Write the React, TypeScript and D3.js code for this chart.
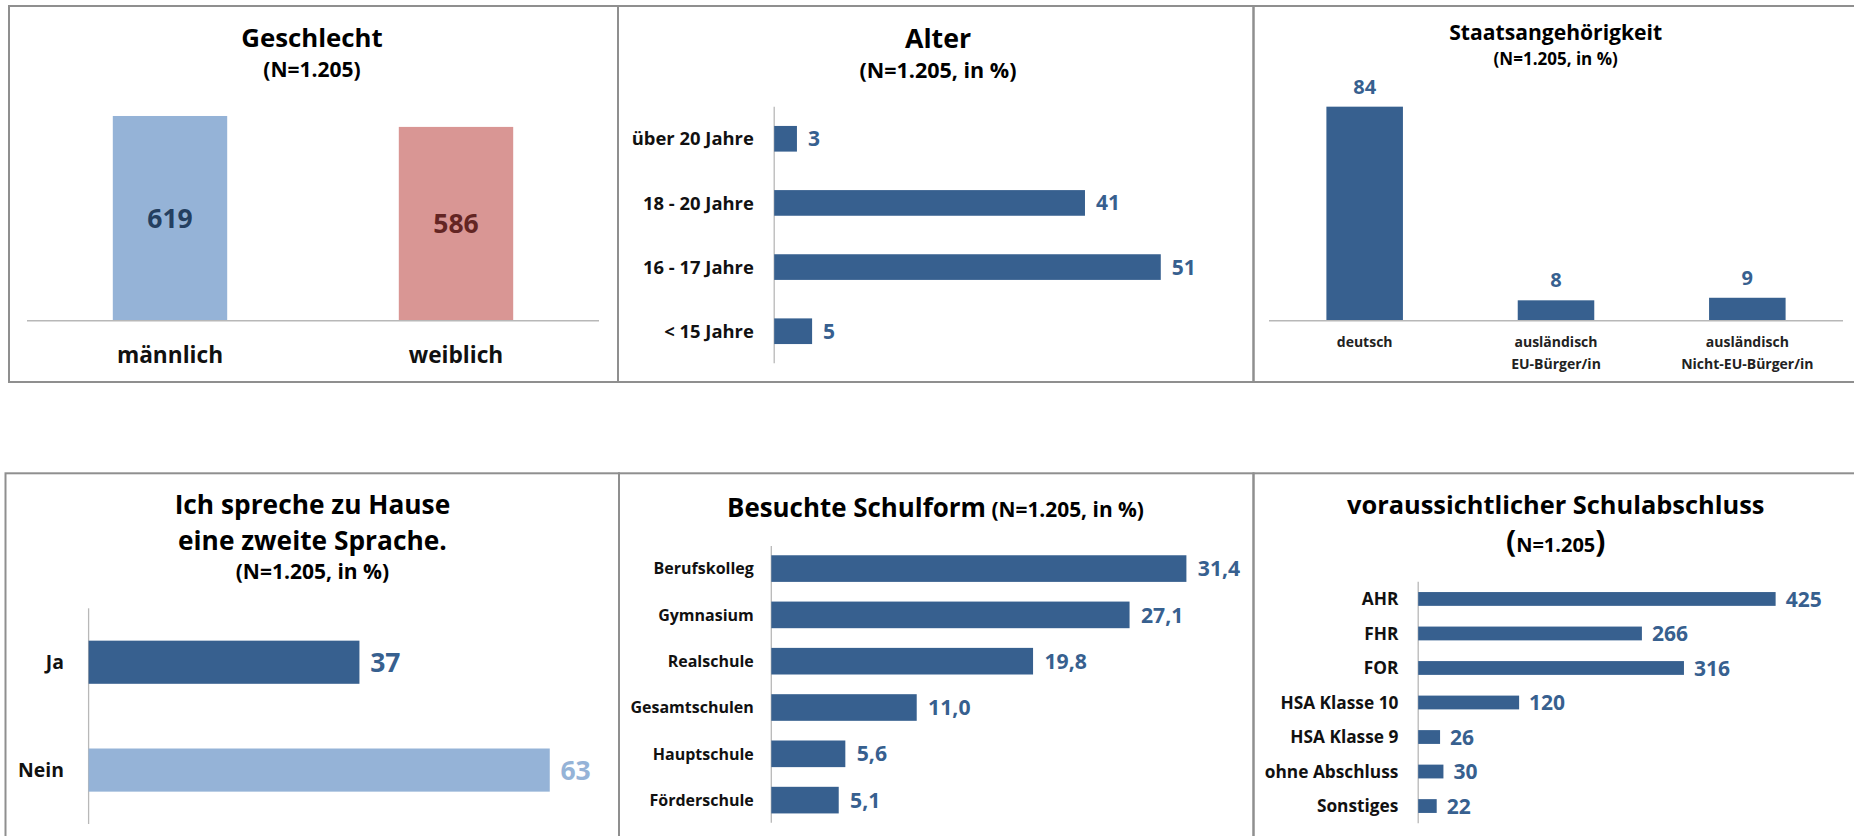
import React from "react";
import * as d3 from "d3";

// ---------- data ----------
const genderCats = ["männlich", "weiblich"];
const genderValues = [619, 586];

const ageCats = ["über 20 Jahre", "18 - 20 Jahre", "16 - 17 Jahre", "< 15 Jahre"];
const ageValues = [3, 41, 51, 5];

const nationCats = [["deutsch"], ["ausländisch", "EU-Bürger/in"], ["ausländisch", "Nicht-EU-Bürger/in"]];
const nationValues = [84, 8, 9];

const langCats = ["Ja", "Nein"];
const langValues = [37, 63];

const schoolCats = ["Berufskolleg", "Gymnasium", "Realschule", "Gesamtschulen", "Hauptschule", "Förderschule"];
const schoolValues = [31.4, 27.1, 19.8, 11.0, 5.6, 5.1];

const degreeCats = ["AHR", "FHR", "FOR", "HSA Klasse 10", "HSA Klasse 9", "ohne Abschluss", "Sonstiges"];
const degreeValues = [425, 266, 316, 120, 26, 30, 22];

// ---------- styles ----------
const FONT = "'Open Sans', Lato, sans-serif";
const DARK = "#37608f";
const LIGHT = "#95b3d7";
const PINK = "#d99694";
const BORDER = "#8f8f8f";
const AXIS = "#b8b8b8";
const fmt1 = (v: number) => v.toFixed(1).replace(".", ",");

function HBar({ cats, values, band, x, labelX, catSize, valSize, color, valColor, fmt, gap }: any) {
  return (
    <g>
      <line x1={x(0)} x2={x(0)} y1={band.range()[0]} y2={band.range()[1]} stroke={AXIS} strokeWidth={1.3} />
      {cats.map((c: string, i: number) => {
        const y = band(c);
        const h = band.bandwidth();
        const col = Array.isArray(color) ? color[i] : color;
        const vcol = Array.isArray(valColor) ? valColor[i] : valColor;
        return (
          <g key={c}>
            <rect x={x(0)} y={y} width={x(values[i]) - x(0)} height={h} fill={col} />
            <text x={labelX} y={y + h / 2} dy="0.36em" textAnchor="end" fontSize={catSize} fontWeight={700} fill="#111">{c}</text>
            <text x={x(values[i]) + gap} y={y + h / 2} dy="0.36em" fontSize={valSize} fontWeight={700} fill={vcol}>{fmt ? fmt(values[i]) : values[i]}</text>
          </g>
        );
      })}
    </g>
  );
}

export default function App() {
  // Panel 1: Geschlecht
  const g1x = d3.scaleBand<string>().domain(genderCats).range([27, 599]).paddingInner(0.6).paddingOuter(0.3);
  const g1y = d3.scaleLinear().domain([0, 700]).range([320.7, 89.2]);

  // Panel 2: Alter
  const a2y = d3.scaleBand<string>().domain(ageCats).range([106.7, 363.3]).paddingInner(0.6).paddingOuter(0.3);
  const a2x = d3.scaleLinear().domain([0, 60]).range([774.2, 774.2 + 60 * 7.58]);

  // Panel 3: Staatsangehörigkeit
  const n3keys = nationCats.map((c) => c.join(" "));
  const n3x = d3.scaleBand<string>().domain(n3keys).range([1269, 1843]).paddingInner(0.6).paddingOuter(0.3);
  const n3y = d3.scaleLinear().domain([0, 100]).range([320.7, 65.9]);

  // Panel 4: zweite Sprache
  const l4y = d3.scaleBand<string>().domain(langCats).range([608.3, 824]).paddingInner(0.6).paddingOuter(0.3);
  const l4x = d3.scaleLinear().domain([0, 70]).range([88.6, 88.6 + 70 * 7.32]);

  // Panel 5: Schulform
  const s5y = d3.scaleBand<string>().domain(schoolCats).range([546, 822.7]).paddingInner(0.425).paddingOuter(0.2);
  const s5x = d3.scaleLinear().domain([0, 35]).range([771.3, 771.3 + 35 * 13.22]);

  // Panel 6: Schulabschluss
  const d6y = d3.scaleBand<string>().domain(degreeCats).range([581.7, 823.3]).paddingInner(0.6).paddingOuter(0.3);
  const d6x = d3.scaleLinear().domain([0, 500]).range([1418.2, 1418.2 + 500 * 0.841]);

  return (
    <svg width={1854} height={836} style={{ position: "absolute", left: 0, top: 0, background: "#fff" }} fontFamily={FONT}>
      <rect width={1854} height={836} fill="#fff" />
      {/* frames */}
      <g fill="none" stroke={BORDER} strokeWidth={2}>
        <rect x={9} y={6} width={609} height={376} />
        <rect x={618} y={6} width={635.5} height={376} />
        <rect x={1253.5} y={6} width={700} height={376} />
        <rect x={5.5} y={473.3} width={613.5} height={420} />
        <rect x={619} y={473.3} width={634.5} height={420} />
        <rect x={1253.5} y={473.3} width={700} height={420} />
      </g>

      {/* Panel 1 */}
      <text x={312} y={46.7} textAnchor="middle" fontSize={25.8} fontWeight={700} fill="#000">Geschlecht</text>
      <text x={312} y={77} textAnchor="middle" fontSize={21} fontWeight={700} fill="#000">(N=1.205)</text>
      {genderCats.map((c, i) => (
        <g key={c}>
          <rect x={g1x(c)} y={g1y(genderValues[i])} width={g1x.bandwidth()} height={g1y(0) - g1y(genderValues[i])} fill={i === 0 ? LIGHT : PINK} />
          <text x={(g1x(c) as number) + g1x.bandwidth() / 2} y={(g1y(genderValues[i]) + g1y(0)) / 2} dy="0.36em" textAnchor="middle" fontSize={26.5} fontWeight={700} fill={i === 0 ? "#243f60" : "#632523"}>{genderValues[i]}</text>
          <text x={(g1x(c) as number) + g1x.bandwidth() / 2} y={362.7} textAnchor="middle" fontSize={22.7} fontWeight={700} fill="#111">{c}</text>
        </g>
      ))}
      <line x1={27} x2={599} y1={g1y(0)} y2={g1y(0)} stroke={AXIS} strokeWidth={1.5} />

      {/* Panel 2 */}
      <text x={938} y={48} textAnchor="middle" fontSize={26.7} fontWeight={700} fill="#000">Alter</text>
      <text x={938} y={78} textAnchor="middle" fontSize={21.5} fontWeight={700} fill="#000">(N=1.205, in %)</text>
      <HBar cats={ageCats} values={ageValues} band={a2y} x={a2x} labelX={753.8} catSize={18.4} valSize={21} color={DARK} valColor={DARK} gap={11} />

      {/* Panel 3 */}
      <text x={1555.7} y={40} textAnchor="middle" fontSize={21.1} fontWeight={700} fill="#000">Staatsangehörigkeit</text>
      <text x={1555.7} y={65} textAnchor="middle" fontSize={17} fontWeight={700} fill="#000">(N=1.205, in %)</text>
      {nationCats.map((c, i) => {
        const k = n3keys[i];
        const cx = (n3x(k) as number) + n3x.bandwidth() / 2;
        return (
          <g key={k}>
            <rect x={n3x(k)} y={n3y(nationValues[i])} width={n3x.bandwidth()} height={n3y(0) - n3y(nationValues[i])} fill={DARK} />
            <text x={cx} y={n3y(nationValues[i]) - 13} textAnchor="middle" fontSize={20} fontWeight={700} fill={DARK}>{nationValues[i]}</text>
            {c.map((line, j) => (
              <text key={j} x={cx} y={347 + j * 21.6} textAnchor="middle" fontSize={14} fontWeight={700} fill="#222">{line}</text>
            ))}
          </g>
        );
      })}
      <line x1={1269} x2={1843} y1={n3y(0)} y2={n3y(0)} stroke={AXIS} strokeWidth={1.5} />

      {/* Panel 4 */}
      <text x={312.4} y={514} textAnchor="middle" fontSize={26.3} fontWeight={700} fill="#000">Ich spreche zu Hause</text>
      <text x={312.4} y={550} textAnchor="middle" fontSize={26.3} fontWeight={700} fill="#000">eine zweite Sprache.</text>
      <text x={312.4} y={579.3} textAnchor="middle" fontSize={21} fontWeight={700} fill="#000">(N=1.205, in %)</text>
      <HBar cats={langCats} values={langValues} band={l4y} x={l4x} labelX={64} catSize={19.4} valSize={26.5} color={[DARK, LIGHT]} valColor={[DARK, LIGHT]} gap={10.7} />

      {/* Panel 5 */}
      <text x={935.5} y={516.7} textAnchor="middle" fill="#000" fontWeight={700}>
        <tspan fontSize={25.9}>Besuchte Schulform</tspan>
        <tspan fontSize={20.9}> (N=1.205, in %)</tspan>
      </text>
      <HBar cats={schoolCats} values={schoolValues} band={s5y} x={s5x} labelX={753.8} catSize={16} valSize={21.2} color={DARK} valColor={DARK} fmt={fmt1} gap={11.4} />

      {/* Panel 6 */}
      <text x={1555.7} y={514} textAnchor="middle" fontSize={25.4} fontWeight={700} fill="#000">voraussichtlicher Schulabschluss</text>
      <text x={1555.7} y={551.7} textAnchor="middle" fontWeight={700} fill="#000">
        <tspan fontSize={30}>(</tspan>
        <tspan fontSize={20}>N=1.205</tspan>
        <tspan fontSize={30}>)</tspan>
      </text>
      <HBar cats={degreeCats} values={degreeValues} band={d6y} x={d6x} labelX={1398.4} catSize={17.3} valSize={21} color={DARK} valColor={DARK} gap={10} />
    </svg>
  );
}
